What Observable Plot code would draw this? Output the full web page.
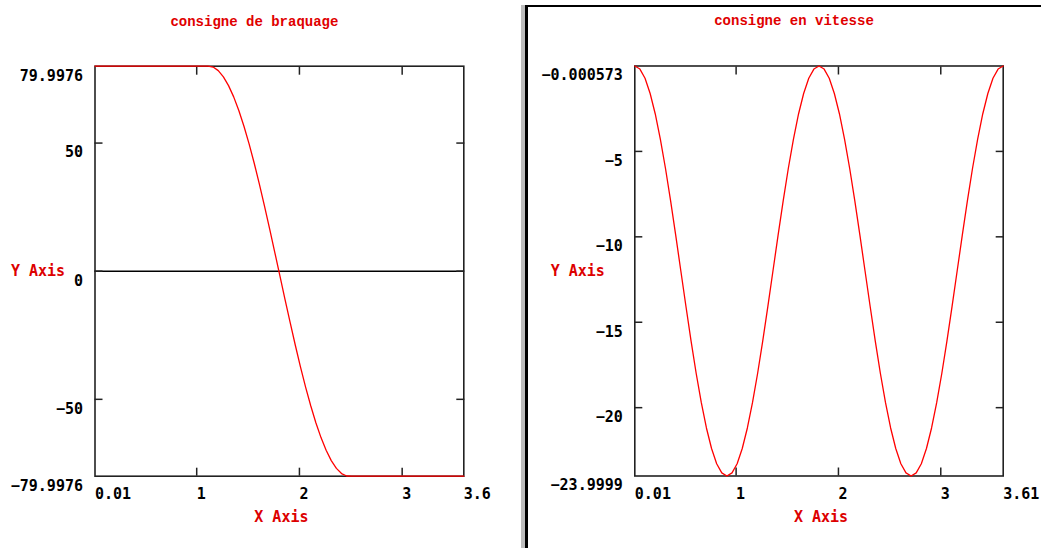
<!DOCTYPE html>
<html>
<head>
<meta charset="utf-8">
<script src="https://cdn.jsdelivr.net/npm/d3@7"></script>
<script src="https://cdn.jsdelivr.net/npm/@observablehq/plot@0.6"></script>
<style>
  html, body { margin: 0; padding: 0; background: #fff; }
  body { width: 1041px; height: 548px; overflow: hidden; position: relative; }
  #left { position: absolute; left: 0; top: 0; z-index: 1; }
  #right { position: absolute; left: 527px; top: 0; z-index: 1; }
  #stripGray { position: absolute; left: 521px; top: 5px; width: 4px; height: 543px; background: #bdbdbd; z-index: 5; }
  #stripBlack { position: absolute; left: 525px; top: 5px; width: 2.5px; height: 543px; background: #000; z-index: 5; }
  #topLine { position: absolute; left: 525px; top: 5px; width: 516px; height: 1.5px; background: #000; z-index: 5; }
</style>
</head>
<body>
<div id="left"></div>
<div id="right"></div>
<div id="stripGray"></div>
<div id="stripBlack"></div>
<div id="topLine"></div>
<script>
// ---------- Left panel: consigne de braquage ----------
const braqTitle = "consigne de braquage";
const braqX = [0.01, 1.11, 1.16, 1.21, 1.26, 1.31, 1.36, 1.41, 1.46, 1.51, 1.56, 1.61, 1.66, 1.71, 1.76, 1.81,
  1.86, 1.91, 1.96, 2.01, 2.06, 2.11, 2.16, 2.21, 2.26, 2.31, 2.36, 2.41, 2.46, 2.51, 3.6];
const braqY = [79.9976, 79.9976, 79.66, 78.28, 75.86, 72.42, 68.02, 62.71, 56.57, 49.67, 42.11, 34.00, 25.42, 16.51, 7.38, -1.85,
  -11.05, -20.11, -28.90, -37.30, -45.21, -52.51, -59.13, -64.94, -69.89, -73.91, -76.95, -78.96, -79.91, -79.9976, -79.9976];
const braqXTicks = [0.01, 1, 2, 3, 3.6];
const braqXLabels = ["0.01", "1", "2", "3", "3.6"];
const braqXInner = [1, 2, 3];
const braqYTicks = [79.9976, 50, 0, -50, -79.9976];
const braqYLabels = ["79.9976", "50", "0", "\u221250", "\u221279.9976"];
const braqYInner = [50, 0, -50];

// ---------- Right panel: consigne en vitesse ----------
const vitTitle = "consigne en vitesse";
const vitX = [0.01, 0.06, 0.11, 0.16, 0.21, 0.26, 0.31, 0.36, 0.41, 0.46, 0.51, 0.56, 0.61, 0.66, 0.71, 0.76, 0.81, 0.86,
  0.91, 0.96, 1.01, 1.06, 1.11, 1.16, 1.21, 1.26, 1.31, 1.36, 1.41, 1.46, 1.51, 1.56, 1.61, 1.66, 1.71, 1.76,
  1.81, 1.86, 1.91, 1.96, 2.01, 2.06, 2.11, 2.16, 2.21, 2.26, 2.31, 2.36, 2.41, 2.46, 2.51, 2.56, 2.61, 2.66,
  2.71, 2.76, 2.81, 2.86, 2.91, 2.96, 3.01, 3.06, 3.11, 3.16, 3.21, 3.26, 3.31, 3.36, 3.41, 3.46, 3.51, 3.56, 3.61];
const vitY = [-0.000573, -0.18, -0.72, -1.61, -2.81, -4.29, -6.00, -7.90, -9.92, -12.00, -14.08, -16.10, -18.00, -19.71, -21.19, -22.39, -23.28, -23.82,
  -23.9999, -23.82, -23.28, -22.39, -21.19, -19.71, -18.00, -16.10, -14.08, -12.00, -9.92, -7.90, -6.00, -4.29, -2.81, -1.61, -0.72, -0.18,
  -0.000573, -0.18, -0.72, -1.61, -2.81, -4.29, -6.00, -7.90, -9.92, -12.00, -14.08, -16.10, -18.00, -19.71, -21.19, -22.39, -23.28, -23.82,
  -23.9999, -23.82, -23.28, -22.39, -21.19, -19.71, -18.00, -16.10, -14.08, -12.00, -9.92, -7.90, -6.00, -4.29, -2.81, -1.61, -0.72, -0.18,
  -0.000573];
const vitXTicks = [0.01, 1, 2, 3, 3.61];
const vitXLabels = ["0.01", "1", "2", "3", "3.61"];
const vitXInner = [1, 2, 3];
const vitYTicks = [-0.000573, -5, -10, -15, -20, -23.9999];
const vitYLabels = ["\u22120.000573", "\u22125", "\u221210", "\u221215", "\u221220", "\u221223.9999"];
const vitYInner = [-5, -10, -15, -20];

const xAxisLabel = "X Axis";
const yAxisLabel = "Y Axis";

function panel(cfg) {
  const data = cfg.xs.map((x, i) => ({x, y: cfg.ys[i]}));
  const fmt = (ticks, labels) => (d) => labels[ticks.indexOf(d)];
  const redText = {fill: "#dd0000", fontFamily: "'DejaVu Sans Mono', monospace", fontSize: 15, fontWeight: "bold", lineAnchor: "middle"};
  return Plot.plot({
    width: cfg.width,
    height: 548,
    marginLeft: cfg.ml,
    marginRight: cfg.mr,
    marginTop: cfg.mt,
    marginBottom: cfg.mb,
    x: {domain: cfg.xDomain},
    y: {domain: cfg.yDomain},
    style: {
      fontFamily: "'DejaVu Sans Mono', monospace",
      fontSize: "15px",
      fontWeight: "bold",
      color: "#000",
      background: "#fff",
      overflow: "visible"
    },
    marks: [
      cfg.zeroLine ? Plot.ruleY([0], {stroke: "#000", strokeWidth: 1.5}) : null,
      Plot.frame({stroke: "#222", strokeWidth: 1.6}),
      Plot.axisX(cfg.xInner, {anchor: "bottom", tickSize: -8, fill: "none", label: null, stroke: "#222", strokeWidth: 1.5}),
      Plot.axisX(cfg.xInner, {anchor: "top", tickSize: -8, fill: "none", label: null, stroke: "#222", strokeWidth: 1.5}),
      Plot.axisY(cfg.yInner, {anchor: "left", tickSize: -8, fill: "none", label: null, stroke: "#222", strokeWidth: 1.5}),
      Plot.axisY(cfg.yInner, {anchor: "right", tickSize: -8, fill: "none", label: null, stroke: "#222", strokeWidth: 1.5}),
      Plot.axisX(cfg.xTicks, {anchor: "bottom", tickSize: 0, tickPadding: 12, textAnchor: "start",
        tickFormat: fmt(cfg.xTicks, cfg.xLabels), label: null, fill: "#000"}),
      Plot.axisY(cfg.yTicks, {anchor: "left", tickSize: 0, tickPadding: 12, dy: 9.5,
        tickFormat: fmt(cfg.yTicks, cfg.yLabels), label: null, fill: "#000"}),
      Plot.line(data, {x: "x", y: "y", stroke: "#ff0000", strokeWidth: 1.3}),
      Plot.text([cfg.title], {frameAnchor: "top", lineAnchor: "middle", dx: -25, dy: -45, fill: "#e00000",
        fontFamily: "'Liberation Mono', monospace", fontSize: 14, fontWeight: "bold"}),
      Plot.text([yAxisLabel], {frameAnchor: "left", dx: -57, textAnchor: "middle", ...redText}),
      Plot.text([xAxisLabel], {frameAnchor: "bottom", dx: 2, dy: 41, textAnchor: "middle", ...redText})
    ]
  });
}

document.getElementById("left").appendChild(panel({
  xs: braqX, ys: braqY, title: braqTitle,
  width: 521, ml: 94.5, mr: 57.7, mt: 65.7, mb: 72.3,
  xDomain: [0.01, 3.6], yDomain: [-79.9976, 79.9976],
  xTicks: braqXTicks, xLabels: braqXLabels, xInner: braqXInner,
  yTicks: braqYTicks, yLabels: braqYLabels, yInner: braqYInner,
  zeroLine: true
}));

document.getElementById("right").appendChild(panel({
  xs: vitX, ys: vitY, title: vitTitle,
  width: 514, ml: 107.3, mr: 38.3, mt: 65.5, mb: 72.5,
  xDomain: [0.01, 3.61], yDomain: [-23.9999, -0.000573],
  xTicks: vitXTicks, xLabels: vitXLabels, xInner: vitXInner,
  yTicks: vitYTicks, yLabels: vitYLabels, yInner: vitYInner,
  zeroLine: false
}));
</script>
</body>
</html>
